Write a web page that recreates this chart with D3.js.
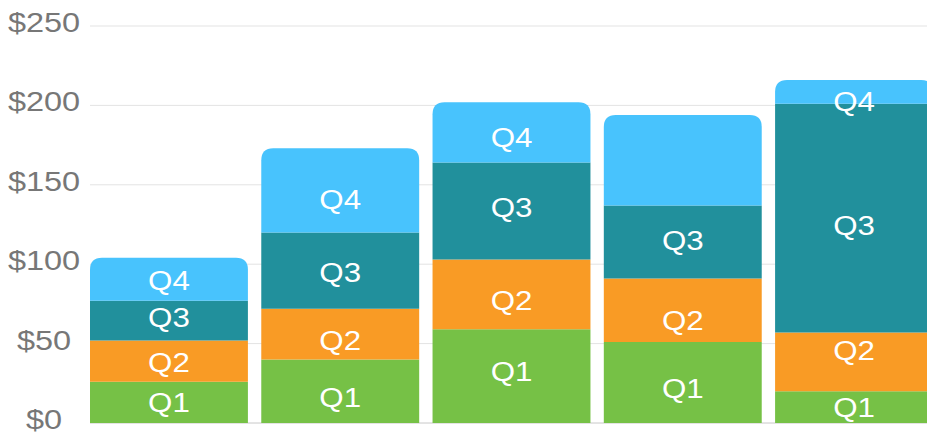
<!DOCTYPE html>
<html>
<head>
<meta charset="utf-8">
<script src="https://cdn.jsdelivr.net/npm/d3@7"></script>
<style>
  html, body { margin: 0; padding: 0; background: #fff; }
  svg { display: block; }
  text { font-family: "Liberation Sans", Arial, Helvetica, sans-serif; }
</style>
</head>
<body>
<svg id="chart" width="927" height="437"></svg>
<script>
// ---- data ----
const categories = ["1", "2", "3", "4", "5"];
const quarters = ["Q1", "Q2", "Q3", "Q4"];
const q1 = [26, 40, 59, 51, 20];
const q2 = [26, 32, 44, 40, 37];
const q3 = [25, 48, 61, 46, 144];
const q4 = [27, 53, 38, 57, 15];
// value (in $) at which each segment label sits
const q1Label = [12.9, 16.4, 32.3, 22.0, 9.9];
const q2Label = [38.1, 51.8, 77.0, 64.4, 45.5];
const q3Label = [66.4, 94.8, 135.7, 114.8, 124.2];
const q4Label = [90.1, 141.0, 179.8, null, 202.9];
const yTicks = [0, 50, 100, 150, 200, 250];
const colors = ["#76C146", "#F99B25", "#21909C", "#48C3FD"];

const series = [q1, q2, q3, q4];
const labels = [q1Label, q2Label, q3Label, q4Label];

const svg = d3.select("#chart");
const W = 927, H = 437;
const stretch = 1.16; // glyphs in the reference are drawn slightly wide

const x = d3.scaleBand().domain(categories).range([90, 933]).paddingInner(0.078).paddingOuter(0);
const y = d3.scaleLinear().domain([0, 250]).range([423, 26]);

// gridlines
svg.append("g").selectAll("line").data(yTicks).join("line")
  .attr("x1", 90).attr("x2", W)
  .attr("y1", d => y(d)).attr("y2", d => y(d))
  .attr("stroke", d => d === 0 ? "#c8c8c8" : "#e3e3e3")
  .attr("stroke-width", 1);

// y labels
svg.append("g").selectAll("text").data(yTicks).join("text")
  .attr("transform", d => `translate(44,${y(d) + 6}) scale(${stretch},1)`)
  .attr("text-anchor", "middle")
  .attr("fill", "#777")
  .attr("font-size", 28)
  .text(d => "$" + d);

// stacked table
const table = categories.map((c, i) => {
  const o = { cat: c };
  quarters.forEach((q, j) => o[q] = series[j][i]);
  return o;
});
const stacked = d3.stack().keys(quarters)(table);

const r = 12;
function segPath(x0, w, yTop, yBot, rounded) {
  if (!rounded) {
    return `M${x0},${yBot}V${yTop}H${x0 + w}V${yBot}Z`;
  }
  const rr = Math.min(r, (yBot - yTop));
  return `M${x0},${yBot}V${yTop + rr}Q${x0},${yTop} ${x0 + rr},${yTop}H${x0 + w - rr}Q${x0 + w},${yTop} ${x0 + w},${yTop + rr}V${yBot}Z`;
}

const gBars = svg.append("g");
stacked.forEach((layer, j) => {
  gBars.append("g").attr("fill", colors[j])
    .selectAll("path").data(layer).join("path")
    .attr("d", d => segPath(x(d.data.cat), x.bandwidth(), y(d[1]), y(d[0]), j === quarters.length - 1));
});

// labels
const gLab = svg.append("g");
stacked.forEach((layer, j) => {
  gLab.selectAll(null).data(layer.filter((d, i) => labels[j][i] !== null).map(d => ({ d, i: categories.indexOf(d.data.cat) })))
    .join("text")
    .attr("transform", o => `translate(${x(o.d.data.cat) + x.bandwidth() / 2},${y(labels[j][o.i])}) scale(${stretch},1)`)
    .attr("dy", "0.36em")
    .attr("text-anchor", "middle")
    .attr("fill", "#fff")
    .attr("font-size", 27)
    .text(quarters[j]);
});
</script>
</body>
</html>
